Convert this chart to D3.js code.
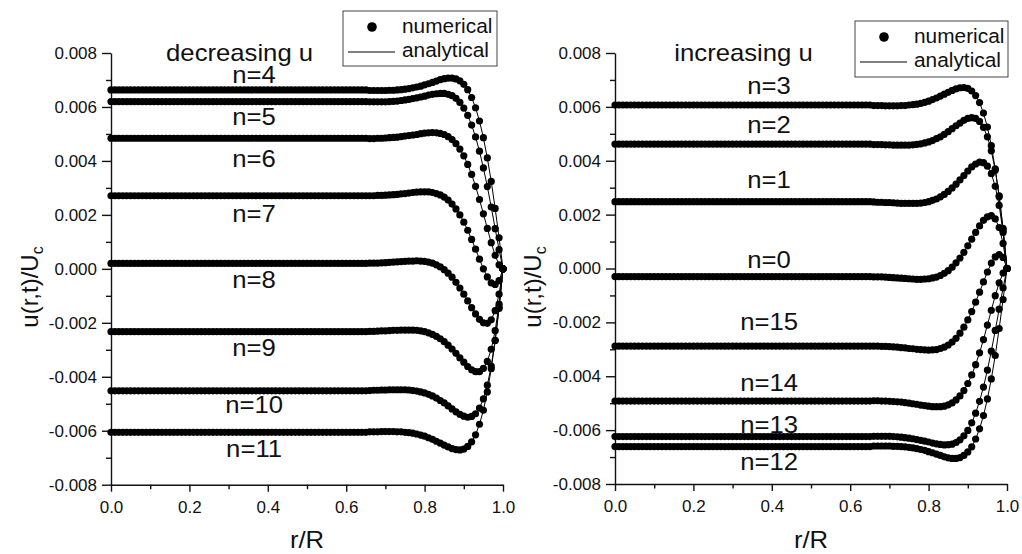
<!DOCTYPE html>
<html>
<head>
<meta charset="utf-8">
<script src="https://cdn.jsdelivr.net/npm/d3@7"></script>
<style>
  body { margin: 0; background: #fff; }
  svg text { font-family: "Liberation Sans", Arial, Helvetica, sans-serif; fill: #111; }
</style>
</head>
<body>
<svg id="chart" width="1022" height="554"></svg>
<script>
// values are in units of 1e-4 (u/Uc), sampled at r/R = 0, 0.01, ... 1.00
const UNIT = 1e-4;

const rGrid = [0,.01,.02,.03,.04,.05,.06,.07,.08,.09,.10,.11,.12,.13,.14,.15,.16,.17,.18,.19,
  .20,.21,.22,.23,.24,.25,.26,.27,.28,.29,.30,.31,.32,.33,.34,.35,.36,.37,.38,.39,
  .40,.41,.42,.43,.44,.45,.46,.47,.48,.49,.50,.51,.52,.53,.54,.55,.56,.57,.58,.59,
  .60,.61,.62,.63,.64,.65,.66,.67,.68,.69,.70,.71,.72,.73,.74,.75,.76,.77,.78,.79,
  .80,.81,.82,.83,.84,.85,.86,.87,.88,.89,.90,.91,.92,.93,.94,.95,.96,.97,.98,.99,1.0];

// ---- decreasing u ----
const u_n4 = [66.3,66.3,66.3,66.3,66.3,66.3,66.3,66.3,66.3,66.3,66.3,
  66.3,66.3,66.3,66.3,66.3,66.3,66.3,66.3,66.3,66.3,66.3,
  66.3,66.3,66.3,66.3,66.3,66.3,66.3,66.3,66.3,66.3,66.3,
  66.3,66.3,66.3,66.3,66.3,66.3,66.3,66.3,66.3,66.3,66.3,
  66.3,66.3,66.3,66.3,66.3,66.3,66.3,66.3,66.3,66.3,66.3,
  66.3,66.3,66.3,66.3,66.3,66.3,66.3,66.3,66.3,66.3,66.3,
  66.1,66.1,66.1,66.1,66.1,66.2,66.2,66.3,66.4,66.6,66.8,67.1,67.4,67.7,68.2,68.6,69.1,69.6,
  70.1,70.5,70.7,70.7,70.4,69.7,68.4,66.4,63.5,59.7,54.8,48.6,41.1,32.4,22.4,11.5,0];

const u_n5 = [62.0,62.0,62.0,62.0,62.0,62.0,62.0,62.0,62.0,62.0,62.0,
  62.0,62.0,62.0,62.0,62.0,62.0,62.0,62.0,62.0,62.0,62.0,
  62.0,62.0,62.0,62.0,62.0,62.0,62.0,62.0,62.0,62.0,62.0,
  62.0,62.0,62.0,62.0,62.0,62.0,62.0,62.0,62.0,62.0,62.0,
  62.0,62.0,62.0,62.0,62.0,62.0,62.0,62.0,62.0,62.0,62.0,
  62.0,62.0,62.0,62.0,62.0,62.0,62.0,62.0,62.0,62.0,62.0,
  61.9,61.9,61.9,61.9,61.9,62.0,62.1,62.2,62.4,62.6,62.8,63.1,63.4,63.7,64.0,64.4,64.7,64.9,
  65.0,65.0,64.7,64.2,63.2,61.7,59.6,56.9,53.3,48.9,43.6,37.4,30.5,22.9,14.9,7.1,0];

const u_n6 = [48.4,48.4,48.4,48.4,48.4,48.4,48.4,48.4,48.4,48.4,48.4,
  48.4,48.4,48.4,48.4,48.4,48.4,48.4,48.4,48.4,48.4,48.4,
  48.4,48.4,48.4,48.4,48.4,48.4,48.4,48.4,48.4,48.4,48.4,
  48.4,48.4,48.4,48.4,48.4,48.4,48.4,48.4,48.4,48.4,48.4,
  48.4,48.4,48.4,48.4,48.4,48.4,48.4,48.4,48.4,48.4,48.4,
  48.4,48.4,48.4,48.4,48.4,48.4,48.4,48.4,48.4,48.4,48.4,
  48.3,48.3,48.4,48.4,48.5,48.6,48.7,48.8,49.0,49.2,49.4,49.6,49.8,50.1,50.3,50.4,50.5,50.4,
  50.2,49.8,49.0,47.9,46.4,44.4,41.9,38.7,35.0,30.6,25.7,20.4,15.0,9.7,5.0,1.5,0];

const u_n7 = [27.1,27.1,27.1,27.1,27.1,27.1,27.1,27.1,27.1,27.1,27.1,
  27.1,27.1,27.1,27.1,27.1,27.1,27.1,27.1,27.1,27.1,27.1,
  27.1,27.1,27.1,27.1,27.1,27.1,27.1,27.1,27.1,27.1,27.1,
  27.1,27.1,27.1,27.1,27.1,27.1,27.1,27.1,27.1,27.1,27.1,
  27.1,27.1,27.1,27.1,27.1,27.1,27.1,27.1,27.1,27.1,27.1,
  27.1,27.1,27.1,27.1,27.1,27.1,27.1,27.1,27.1,27.1,27.1,
  27.1,27.1,27.2,27.2,27.3,27.4,27.5,27.6,27.8,27.9,28.1,28.3,28.4,28.5,28.5,28.5,28.3,27.9,
  27.4,26.6,25.5,24.0,22.2,20.0,17.3,14.3,10.9,7.3,3.6,0.0,-3.0,-5.2,-5.8,-4.4,0];

const u_n8 = [2.0,2.0,2.0,2.0,2.0,2.0,2.0,2.0,2.0,2.0,2.0,
  2.0,2.0,2.0,2.0,2.0,2.0,2.0,2.0,2.0,2.0,2.0,
  2.0,2.0,2.0,2.0,2.0,2.0,2.0,2.0,2.0,2.0,2.0,
  2.0,2.0,2.0,2.0,2.0,2.0,2.0,2.0,2.0,2.0,2.0,
  2.0,2.0,2.0,2.0,2.0,2.0,2.0,2.0,2.0,2.0,2.0,
  2.0,2.0,2.0,2.0,2.0,2.0,2.0,2.0,2.0,2.0,2.0,
  2.1,2.1,2.1,2.2,2.3,2.4,2.5,2.6,2.7,2.8,2.9,2.9,3.0,2.9,2.8,2.5,2.1,1.5,
  0.7,-0.3,-1.6,-3.1,-5.0,-7.1,-9.4,-11.9,-14.4,-16.7,-18.7,-20.0,-20.2,-18.9,-15.5,-9.4,0];

const u_n9 = [-23.3,-23.3,-23.3,-23.3,-23.3,-23.3,-23.3,-23.3,-23.3,-23.3,-23.3,
  -23.3,-23.3,-23.3,-23.3,-23.3,-23.3,-23.3,-23.3,-23.3,-23.3,-23.3,
  -23.3,-23.3,-23.3,-23.3,-23.3,-23.3,-23.3,-23.3,-23.3,-23.3,-23.3,
  -23.3,-23.3,-23.3,-23.3,-23.3,-23.3,-23.3,-23.3,-23.3,-23.3,-23.3,
  -23.3,-23.3,-23.3,-23.3,-23.3,-23.3,-23.3,-23.3,-23.3,-23.3,-23.3,
  -23.3,-23.3,-23.3,-23.3,-23.3,-23.3,-23.3,-23.3,-23.3,-23.3,-23.3,
  -23.2,-23.2,-23.1,-23.0,-23.0,-22.9,-22.8,-22.8,-22.7,-22.7,-22.7,-22.7,-22.8,-23.0,-23.3,-23.7,-24.3,-25.0,
  -25.9,-27.0,-28.3,-29.7,-31.3,-33.0,-34.6,-36.2,-37.4,-38.1,-38.1,-36.9,-34.3,-29.8,-22.9,-13.1,0];

const u_n10 = [-45.2,-45.2,-45.2,-45.2,-45.2,-45.2,-45.2,-45.2,-45.2,-45.2,-45.2,
  -45.2,-45.2,-45.2,-45.2,-45.2,-45.2,-45.2,-45.2,-45.2,-45.2,-45.2,
  -45.2,-45.2,-45.2,-45.2,-45.2,-45.2,-45.2,-45.2,-45.2,-45.2,-45.2,
  -45.2,-45.2,-45.2,-45.2,-45.2,-45.2,-45.2,-45.2,-45.2,-45.2,-45.2,
  -45.2,-45.2,-45.2,-45.2,-45.2,-45.2,-45.2,-45.2,-45.2,-45.2,-45.2,
  -45.2,-45.2,-45.2,-45.2,-45.2,-45.2,-45.2,-45.2,-45.2,-45.2,-45.2,
  -45.1,-45.0,-45.0,-44.9,-44.9,-44.8,-44.8,-44.8,-44.8,-44.8,-44.9,-45.1,-45.3,-45.6,-46.0,-46.5,-47.1,-47.9,
  -48.8,-49.7,-50.8,-51.9,-53.0,-53.9,-54.6,-55.0,-54.7,-53.7,-51.6,-48.2,-43.1,-36.0,-26.6,-14.7,0];

const u_n11 = [-60.6,-60.6,-60.6,-60.6,-60.6,-60.6,-60.6,-60.6,-60.6,-60.6,-60.6,
  -60.6,-60.6,-60.6,-60.6,-60.6,-60.6,-60.6,-60.6,-60.6,-60.6,-60.6,
  -60.6,-60.6,-60.6,-60.6,-60.6,-60.6,-60.6,-60.6,-60.6,-60.6,-60.6,
  -60.6,-60.6,-60.6,-60.6,-60.6,-60.6,-60.6,-60.6,-60.6,-60.6,-60.6,
  -60.6,-60.6,-60.6,-60.6,-60.6,-60.6,-60.6,-60.6,-60.6,-60.6,-60.6,
  -60.6,-60.6,-60.6,-60.6,-60.6,-60.6,-60.6,-60.6,-60.6,-60.6,-60.6,
  -60.4,-60.4,-60.4,-60.3,-60.3,-60.3,-60.3,-60.4,-60.4,-60.6,-60.7,-60.9,-61.2,-61.6,-62.0,-62.6,-63.2,-63.9,
  -64.6,-65.3,-66.0,-66.6,-67.0,-67.1,-66.8,-65.8,-64.1,-61.5,-57.6,-52.4,-45.6,-37.0,-26.5,-14.2,0];

// ---- increasing u ----
const u_n12 = [-66.1,-66.1,-66.1,-66.1,-66.1,-66.1,-66.1,-66.1,-66.1,-66.1,-66.1,
  -66.1,-66.1,-66.1,-66.1,-66.1,-66.1,-66.1,-66.1,-66.1,-66.1,-66.1,
  -66.1,-66.1,-66.1,-66.1,-66.1,-66.1,-66.1,-66.1,-66.1,-66.1,-66.1,
  -66.1,-66.1,-66.1,-66.1,-66.1,-66.1,-66.1,-66.1,-66.1,-66.1,-66.1,
  -66.1,-66.1,-66.1,-66.1,-66.1,-66.1,-66.1,-66.1,-66.1,-66.1,-66.1,
  -66.1,-66.1,-66.1,-66.1,-66.1,-66.1,-66.1,-66.1,-66.1,-66.1,-66.1,
  -65.9,-65.9,-65.9,-65.9,-65.9,-66.0,-66.0,-66.1,-66.2,-66.4,-66.6,-66.9,-67.2,-67.5,-68.0,-68.4,-68.9,-69.4,
  -69.9,-70.3,-70.5,-70.5,-70.2,-69.4,-68.1,-66.2,-63.3,-59.5,-54.6,-48.4,-41.0,-32.3,-22.3,-11.5,0];

const u_n13 = [-62.4,-62.4,-62.4,-62.4,-62.4,-62.4,-62.4,-62.4,-62.4,-62.4,-62.4,
  -62.4,-62.4,-62.4,-62.4,-62.4,-62.4,-62.4,-62.4,-62.4,-62.4,-62.4,
  -62.4,-62.4,-62.4,-62.4,-62.4,-62.4,-62.4,-62.4,-62.4,-62.4,-62.4,
  -62.4,-62.4,-62.4,-62.4,-62.4,-62.4,-62.4,-62.4,-62.4,-62.4,-62.4,
  -62.4,-62.4,-62.4,-62.4,-62.4,-62.4,-62.4,-62.4,-62.4,-62.4,-62.4,
  -62.4,-62.4,-62.4,-62.4,-62.4,-62.4,-62.4,-62.4,-62.4,-62.4,-62.4,
  -62.3,-62.3,-62.3,-62.3,-62.3,-62.4,-62.5,-62.6,-62.8,-63.0,-63.2,-63.5,-63.8,-64.1,-64.4,-64.8,-65.1,-65.3,
  -65.5,-65.4,-65.2,-64.6,-63.6,-62.1,-60.1,-57.3,-53.7,-49.3,-44.0,-37.7,-30.7,-23.0,-15.1,-7.2,0];

const u_n14 = [-49.2,-49.2,-49.2,-49.2,-49.2,-49.2,-49.2,-49.2,-49.2,-49.2,-49.2,
  -49.2,-49.2,-49.2,-49.2,-49.2,-49.2,-49.2,-49.2,-49.2,-49.2,-49.2,
  -49.2,-49.2,-49.2,-49.2,-49.2,-49.2,-49.2,-49.2,-49.2,-49.2,-49.2,
  -49.2,-49.2,-49.2,-49.2,-49.2,-49.2,-49.2,-49.2,-49.2,-49.2,-49.2,
  -49.2,-49.2,-49.2,-49.2,-49.2,-49.2,-49.2,-49.2,-49.2,-49.2,-49.2,
  -49.2,-49.2,-49.2,-49.2,-49.2,-49.2,-49.2,-49.2,-49.2,-49.2,-49.2,
  -49.1,-49.1,-49.2,-49.2,-49.3,-49.4,-49.5,-49.6,-49.8,-50.0,-50.2,-50.4,-50.7,-50.9,-51.1,-51.3,-51.3,-51.3,
  -51.1,-50.6,-49.9,-48.8,-47.3,-45.3,-42.7,-39.5,-35.7,-31.3,-26.4,-21.0,-15.5,-10.1,-5.3,-1.7,0];

const u_n15 = [-28.8,-28.8,-28.8,-28.8,-28.8,-28.8,-28.8,-28.8,-28.8,-28.8,-28.8,
  -28.8,-28.8,-28.8,-28.8,-28.8,-28.8,-28.8,-28.8,-28.8,-28.8,-28.8,
  -28.8,-28.8,-28.8,-28.8,-28.8,-28.8,-28.8,-28.8,-28.8,-28.8,-28.8,
  -28.8,-28.8,-28.8,-28.8,-28.8,-28.8,-28.8,-28.8,-28.8,-28.8,-28.8,
  -28.8,-28.8,-28.8,-28.8,-28.8,-28.8,-28.8,-28.8,-28.8,-28.8,-28.8,
  -28.8,-28.8,-28.8,-28.8,-28.8,-28.8,-28.8,-28.8,-28.8,-28.8,-28.8,
  -28.8,-28.8,-28.9,-28.9,-29.0,-29.1,-29.2,-29.4,-29.5,-29.7,-29.8,-30.0,-30.1,-30.2,-30.3,-30.2,-30.1,-29.7,
  -29.2,-28.4,-27.3,-25.9,-24.0,-21.8,-19.1,-16.0,-12.5,-8.8,-5.0,-1.3,2.0,4.3,5.2,4.1,0];

const u_n0 = [-3.0,-3.0,-3.0,-3.0,-3.0,-3.0,-3.0,-3.0,-3.0,-3.0,-3.0,
  -3.0,-3.0,-3.0,-3.0,-3.0,-3.0,-3.0,-3.0,-3.0,-3.0,-3.0,
  -3.0,-3.0,-3.0,-3.0,-3.0,-3.0,-3.0,-3.0,-3.0,-3.0,-3.0,
  -3.0,-3.0,-3.0,-3.0,-3.0,-3.0,-3.0,-3.0,-3.0,-3.0,-3.0,
  -3.0,-3.0,-3.0,-3.0,-3.0,-3.0,-3.0,-3.0,-3.0,-3.0,-3.0,
  -3.0,-3.0,-3.0,-3.0,-3.0,-3.0,-3.0,-3.0,-3.0,-3.0,-3.0,
  -3.1,-3.1,-3.1,-3.2,-3.3,-3.4,-3.5,-3.6,-3.7,-3.8,-3.9,-4.0,-4.0,-3.9,-3.8,-3.5,-3.2,-2.6,
  -1.8,-0.8,0.5,2.1,3.9,6.0,8.4,10.9,13.4,15.8,17.9,19.2,19.6,18.4,15.2,9.3,0];

const u_n1 = [24.8,24.8,24.8,24.8,24.8,24.8,24.8,24.8,24.8,24.8,24.8,
  24.8,24.8,24.8,24.8,24.8,24.8,24.8,24.8,24.8,24.8,24.8,
  24.8,24.8,24.8,24.8,24.8,24.8,24.8,24.8,24.8,24.8,24.8,
  24.8,24.8,24.8,24.8,24.8,24.8,24.8,24.8,24.8,24.8,24.8,
  24.8,24.8,24.8,24.8,24.8,24.8,24.8,24.8,24.8,24.8,24.8,
  24.8,24.8,24.8,24.8,24.8,24.8,24.8,24.8,24.8,24.8,24.8,
  24.7,24.6,24.6,24.5,24.5,24.4,24.3,24.2,24.2,24.2,24.2,24.2,24.3,24.5,24.8,25.3,25.8,26.6,
  27.5,28.6,29.9,31.3,32.9,34.5,36.2,37.7,38.8,39.5,39.3,38.0,35.2,30.5,23.4,13.4,0];

const u_n2 = [46.2,46.2,46.2,46.2,46.2,46.2,46.2,46.2,46.2,46.2,46.2,
  46.2,46.2,46.2,46.2,46.2,46.2,46.2,46.2,46.2,46.2,46.2,
  46.2,46.2,46.2,46.2,46.2,46.2,46.2,46.2,46.2,46.2,46.2,
  46.2,46.2,46.2,46.2,46.2,46.2,46.2,46.2,46.2,46.2,46.2,
  46.2,46.2,46.2,46.2,46.2,46.2,46.2,46.2,46.2,46.2,46.2,
  46.2,46.2,46.2,46.2,46.2,46.2,46.2,46.2,46.2,46.2,46.2,
  46.0,46.0,46.0,45.9,45.9,45.8,45.8,45.8,45.8,45.8,45.9,46.1,46.3,46.6,47.0,47.5,48.2,48.9,
  49.8,50.8,51.9,53.0,54.0,55.0,55.7,56.0,55.7,54.6,52.4,48.9,43.7,36.5,27.0,14.9,0];

const u_n3 = [60.7,60.7,60.7,60.7,60.7,60.7,60.7,60.7,60.7,60.7,60.7,
  60.7,60.7,60.7,60.7,60.7,60.7,60.7,60.7,60.7,60.7,60.7,
  60.7,60.7,60.7,60.7,60.7,60.7,60.7,60.7,60.7,60.7,60.7,
  60.7,60.7,60.7,60.7,60.7,60.7,60.7,60.7,60.7,60.7,60.7,
  60.7,60.7,60.7,60.7,60.7,60.7,60.7,60.7,60.7,60.7,60.7,
  60.7,60.7,60.7,60.7,60.7,60.7,60.7,60.7,60.7,60.7,60.7,
  60.5,60.5,60.5,60.4,60.4,60.4,60.4,60.5,60.5,60.7,60.8,61.0,61.3,61.7,62.1,62.7,63.3,64.0,
  64.7,65.4,66.1,66.7,67.1,67.2,66.9,65.9,64.2,61.6,57.7,52.5,45.6,37.0,26.6,14.2,0];

// curve labels: text and the u value (1e-4) of the label baseline
const labelsLeft  = [["n=4",68.8],["n=5",53.3],["n=6",37.9],["n=7",17.5],["n=8",-7.2],["n=9",-32.3],["n=10",-53.5],["n=11",-69.6]];
const labelsRight = [["n=3",64.8],["n=2",50.2],["n=1",29.8],["n=0",0.1],["n=15",-22.8],["n=14",-45.4],["n=13",-61.2],["n=12",-74.8]];

const yMajor = [-0.008,-0.006,-0.004,-0.002,0,0.002,0.004,0.006,0.008];
const yMinor = [-0.007,-0.005,-0.003,-0.001,0.001,0.003,0.005,0.007];
const xMajor = [0,0.2,0.4,0.6,0.8,1.0];
const xMinor = [0.1,0.3,0.5,0.7,0.9];

const svg = d3.select("#chart");
const FONT = '"Liberation Sans", Arial, Helvetica, sans-serif';

function wideText(g, x, y, txt, size, anchor) {
  return g.append("text")
    .attr("transform", `translate(${x},${y}) scale(1.07,1)`)
    .attr("text-anchor", anchor || "middle")
    .attr("font-size", size)
    .text(txt);
}

const panels = [
  { left: 111, right: 503, top: 53, bottom: 484.7,
    title: "decreasing u", curves: [u_n4,u_n5,u_n6,u_n7,u_n8,u_n9,u_n10,u_n11],
    labels: labelsLeft, labelR: 0.365, ylabX: 38,
    legend: { x: 343, y: 11, w: 154, h: 55 } },
  { left: 615, right: 1007, top: 53, bottom: 484,
    title: "increasing u", curves: [u_n12,u_n13,u_n14,u_n15,u_n0,u_n1,u_n2,u_n3],
    labels: labelsRight, labelR: 0.393, ylabX: 541,
    legend: { x: 855, y: 21, w: 153, h: 56 } }
];

panels.forEach(p => {
  const x = d3.scaleLinear().domain([0, 1]).range([p.left, p.right]);
  const y = d3.scaleLinear().domain([-0.008, 0.008]).range([p.bottom, p.top]);
  const g = svg.append("g");

  // title and curve labels (under the markers)
  wideText(g, x(0.328), y(77 * UNIT), p.title, 24);
  p.labels.forEach(l => wideText(g, x(p.labelR), y(l[1] * UNIT), l[0], 24));

  // axes
  const styleAxis = a => {
    a.attr("font-size", 17).attr("font-family", FONT);
    a.selectAll("path,line").attr("stroke", "#111").attr("stroke-width", 1.4);
    a.selectAll("text").attr("fill", "#111");
  };
  g.append("g").attr("transform", `translate(${p.left},0)`)
    .call(d3.axisLeft(y).tickValues(yMajor).tickFormat(v => v.toFixed(3))
      .tickSize(9).tickPadding(5).tickSizeOuter(0))
    .call(styleAxis);
  g.append("g").attr("transform", `translate(${p.left},0)`)
    .call(d3.axisLeft(y).tickValues(yMinor).tickFormat("").tickSize(5))
    .call(a => a.select(".domain").remove())
    .call(styleAxis);
  g.append("g").attr("transform", `translate(0,${p.bottom})`)
    .call(d3.axisBottom(x).tickValues(xMajor).tickFormat(v => v.toFixed(1))
      .tickSize(7).tickPadding(9).tickSizeOuter(0))
    .call(styleAxis);
  g.append("g").attr("transform", `translate(0,${p.bottom})`)
    .call(d3.axisBottom(x).tickValues(xMinor).tickFormat("").tickSize(4.5))
    .call(a => a.select(".domain").remove())
    .call(styleAxis);

  // axis titles
  wideText(g, (p.left + p.right) / 2, 548, "r/R", 24);
  const yl = g.append("text")
    .attr("transform", `translate(${p.ylabX},287) rotate(-90)`)
    .attr("text-anchor", "middle")
    .attr("font-size", 24);
  yl.append("tspan").text("u(r,t)/U");
  yl.append("tspan").attr("font-size", 16).attr("dy", 5).text("c");

  // curves: analytical line + numerical markers
  const line = d3.line().x(d => x(d[0])).y(d => y(d[1]));
  p.curves.forEach(c => {
    const pts = rGrid.map((r, i) => [r, c[i] * UNIT]);
    g.append("path").attr("d", line(pts))
      .attr("fill", "none").attr("stroke", "#000").attr("stroke-width", 1);
    g.append("g").selectAll("circle").data(pts).enter().append("circle")
      .attr("cx", d => x(d[0])).attr("cy", d => y(d[1]))
      .attr("r", 3.6).attr("fill", "#000");
  });

  // legend
  const L = p.legend;
  const lg = g.append("g");
  lg.append("rect").attr("x", L.x).attr("y", L.y).attr("width", L.w).attr("height", L.h)
    .attr("fill", "#fff").attr("stroke", "#444").attr("stroke-width", 1);
  lg.append("circle").attr("cx", L.x + 29).attr("cy", L.y + 16).attr("r", 4.8).attr("fill", "#000");
  wideText(lg, L.x + 59, L.y + 22, "numerical", 19.5, "start");
  lg.append("line").attr("x1", L.x + 5).attr("x2", L.x + 52)
    .attr("y1", L.y + 41).attr("y2", L.y + 41).attr("stroke", "#000").attr("stroke-width", 1);
  wideText(lg, L.x + 59, L.y + 46, "analytical", 19.5, "start");
});
</script>
</body>
</html>
